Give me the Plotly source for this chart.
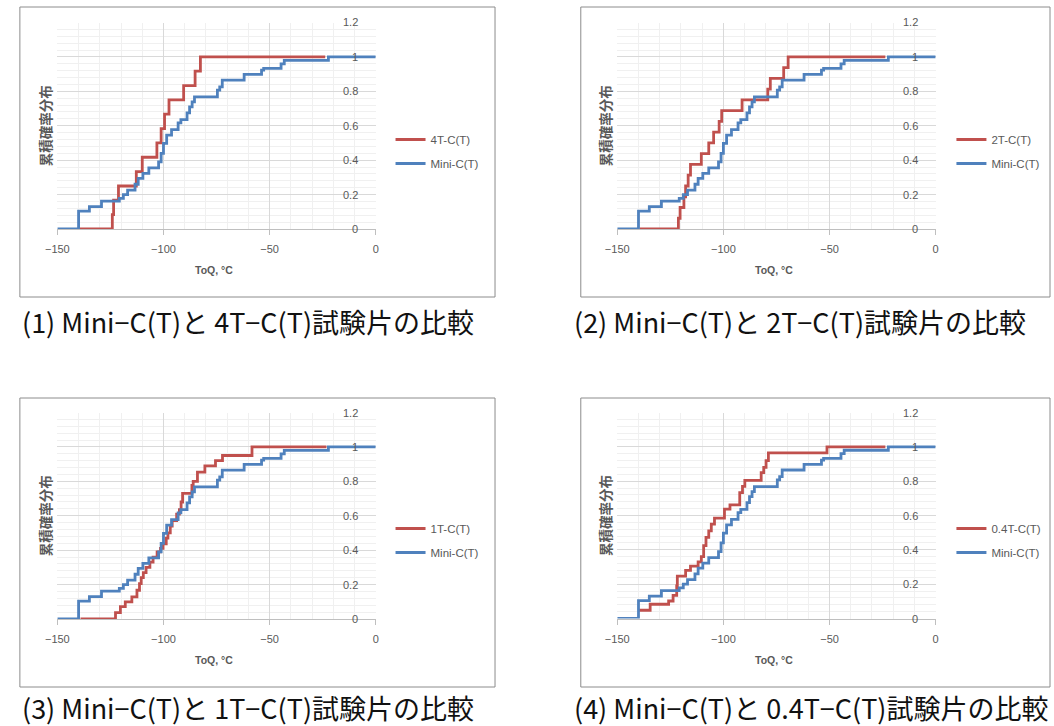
import plotly.graph_objects as go

W, H = 1054, 726

# ---- data ----
mini_x = [-150, -140.0, -134.9, -129.2, -120.8, -118.9, -116.9, -113.4, -111.9, -109.7, -106.9,
          -102.3, -101.1, -100.0, -98.5, -96.2, -93.1, -91.8, -88.9, -87.7, -86.5, -85.4,
          -74.6, -73.5, -72.3, -62.0, -53.8, -52.8, -44.6, -43.1, -22.3, 0]
mini_y = [0, 0.104, 0.13, 0.162, 0.178, 0.20, 0.226, 0.26, 0.294, 0.323, 0.355,
          0.39, 0.44, 0.497, 0.545, 0.578, 0.617, 0.636, 0.675, 0.71, 0.739, 0.768,
          0.807, 0.826, 0.865, 0.898, 0.923, 0.933, 0.96, 0.98, 1.0, 1.0]

t4_x = [-139.6, -124.1, -123.5, -121.2, -112.8, -110.0, -103.1, -101.1, -99.5, -97.4, -90.5,
        -85.1, -82.6, -23.8]
t4_y = [0, 0.083, 0.167, 0.25, 0.333, 0.417, 0.5, 0.583, 0.667, 0.75, 0.833, 0.917, 1.0, 1.0]

t2_x = [-139.5, -121.2, -120.4, -118.6, -117.8, -116.6, -115.5, -110.4, -106.9, -104.6, -102.0,
        -100.8, -91.2, -79.1, -77.9, -71.6, -69.5, -23.7]
t2_y = [0, 0.0625, 0.125, 0.1875, 0.25, 0.3125, 0.375, 0.4375, 0.5, 0.5625, 0.625, 0.6875,
        0.75, 0.8125, 0.875, 0.9375, 1.0, 1.0]

t1_x = [-139.1, -122.6, -120.3, -118.0, -114.9, -112.5, -111.3, -110.5, -109.5, -108.2, -106.4,
        -104.9, -103.0, -101.4, -100.2, -98.7, -97.9, -96.8, -95.9, -93.8, -92.5, -91.7, -91.0,
        -86.6, -86.0, -84.0, -80.5, -75.5, -72.2, -58.3, -23.2]
t1_y = [0, 0.037, 0.072, 0.10, 0.128, 0.167, 0.205, 0.24, 0.27, 0.30, 0.33, 0.36, 0.39, 0.41,
        0.437, 0.47, 0.5, 0.54, 0.572, 0.61, 0.635, 0.68, 0.73, 0.776, 0.80, 0.853, 0.89, 0.92,
        0.95, 1.0, 1.0]

t04_x = [-139.8, -134.5, -125.8, -123.7, -122.0, -121.7, -117.8, -115.5, -111.9, -110.4, -109.3,
         -108.2, -106.9, -105.7, -104.2, -99.5, -96.9, -92.3, -91.0, -89.9, -82.2, -81.0, -79.9,
         -78.8, -51.2, -23.7]
t04_y = [0.048, 0.083, 0.102, 0.135, 0.19, 0.247, 0.28, 0.305, 0.33, 0.36, 0.425, 0.473, 0.51,
         0.55, 0.585, 0.637, 0.662, 0.733, 0.77, 0.805, 0.85, 0.88, 0.92, 0.965, 1.0, 1.0]

series_names = ["4T-C(T)", "2T-C(T)", "1T-C(T)", "0.4T-C(T)"]
mini_name = "Mini-C(T)"
captions = ["(1) Mini−C(T)と 4T−C(T)試験片の比較",
            "(2) Mini−C(T)と 2T−C(T)試験片の比較",
            "(3) Mini−C(T)と 1T−C(T)試験片の比較",
            "(4) Mini−C(T)と 0.4T−C(T)試験片の比較"]
x_title = "ToQ, °C"
y_title = "累積確率分布"
x_ticks = [-150, -100, -50, 0]
y_ticks = [0, 0.2, 0.4, 0.6, 0.8, 1, 1.2]
y_tick_text = ["0", "0.2", "0.4", "0.6", "0.8", "1", "1.2"]

RED = "#C0504D"
BLUE = "#4F81BD"
TXT = "#595959"

def px(x):
    return x / W

def py(y):
    return 1 - y / H

panels = [
    dict(l=46, r=369, t=22.5, b=229, box=(8, 7, 490, 297), cap=8, cy=322, leg=(384, 125)),
    dict(l=614, r=937, t=22.5, b=229, box=(577, 7, 1053, 297), cap=568, cy=322, leg=(953, 125)),
    dict(l=46, r=369, t=412.5, b=619, box=(8, 398, 490, 687), cap=8, cy=707, leg=(384, 514)),
    dict(l=614, r=937, t=412.5, b=618.5, box=(577, 398, 1053, 687), cap=568, cy=707, leg=(953, 514)),
]
red_data = [(t4_x, t4_y), (t2_x, t2_y), (t1_x, t1_y), (t04_x, t04_y)]

fig = go.Figure()
shapes, annotations = [], []
layout_axes = {}

for i, p in enumerate(panels):
    n = i + 1
    xa = "x" if n == 1 else f"x{n}"
    ya = "y" if n == 1 else f"y{n}"
    lg = "legend" if n == 1 else f"legend{n}"
    rx, ry = red_data[i]
    fig.add_trace(go.Scatter(x=rx, y=ry, mode="lines", line=dict(color=RED, width=2.8, shape="hv"),
                             name=series_names[i], xaxis=xa, yaxis=ya, legend=lg,
                             legendgroup=f"r{n}", showlegend=True))
    fig.add_trace(go.Scatter(x=mini_x, y=mini_y, mode="lines", line=dict(color=BLUE, width=2.8, shape="hv"),
                             name=mini_name, xaxis=xa, yaxis=ya, legend=lg,
                             legendgroup=f"b{n}", showlegend=True))

    layout_axes["xaxis" if n == 1 else f"xaxis{n}"] = dict(
        domain=[px(p["l"]), px(p["r"])], range=[-150, 0], anchor=ya,
        tickvals=x_ticks, ticks="outside", ticklen=5, tickcolor="#BFBFBF",
        showline=True, linecolor="#BFBFBF", linewidth=1,
        showgrid=True, gridcolor="#D9D9D9", gridwidth=1, zeroline=False,
        minor=dict(dtick=10, tick0=0, showgrid=True, gridcolor="#F0F0F0", gridwidth=1),
        tickfont=dict(family="Liberation Sans, Arial", size=11, color=TXT),
        ticklabelstandoff=5, fixedrange=True,
    )
    layout_axes["yaxis" if n == 1 else f"yaxis{n}"] = dict(
        domain=[py(p["b"]), py(p["t"])], range=[0, 1.2], anchor=xa, side="right",
        tickvals=y_ticks, showticklabels=False,
        showgrid=True, gridcolor="#D9D9D9", gridwidth=1, zeroline=False, showline=False,
        minor=dict(dtick=0.04, tick0=0, showgrid=True, gridcolor="#F0F0F0", gridwidth=1),
        fixedrange=True,
    )
    layout_axes[lg] = dict(
        x=px(p["leg"][0]), y=py(p["leg"][1]), xanchor="left", yanchor="top",
        bgcolor="rgba(0,0,0,0)", borderwidth=0, tracegroupgap=5,
        font=dict(family="Liberation Sans, Arial", size=11.5, color=TXT),
    )

    # y tick labels, drawn inside next to the right-hand axis at x = 0
    for v, t in zip(y_ticks, y_tick_text):
        annotations.append(dict(text=t, xref=xa, yref=ya, x=0, y=v, xanchor="right",
                                yanchor="middle", xshift=-16, showarrow=False,
                                font=dict(family="Liberation Sans, Arial", size=11, color=TXT)))

    bx0, by0, bx1, by1 = p["box"]
    shapes.append(dict(type="rect", xref="paper", yref="paper",
                       x0=px(bx0), x1=px(bx1), y0=py(by1), y1=py(by0),
                       line=dict(color="#8C8C8C", width=1), fillcolor="rgba(0,0,0,0)", layer="below"))
    cx = (p["l"] + p["r"]) / 2
    annotations.append(dict(text=f"<b>{x_title}</b>", xref="paper", yref="paper",
                            x=px(cx - 3), y=py(p["b"] + 41), xanchor="center", yanchor="middle",
                            showarrow=False,
                            font=dict(family="Liberation Sans, Arial", size=10.5, color=TXT)))
    annotations.append(dict(text=f"<b>{y_title}</b>", xref="paper", yref="paper",
                            x=px(p["l"] - 13), y=py((p["t"] + p["b"]) / 2), xanchor="center",
                            yanchor="middle", showarrow=False, textangle=-90,
                            font=dict(family="Noto Sans CJK JP", size=13.5, color=TXT)))
    annotations.append(dict(text=captions[i], xref="paper", yref="paper",
                            x=px(p["cap"]), y=py(p["cy"]), xanchor="left", yanchor="middle",
                            showarrow=False,
                            font=dict(family="Noto Sans CJK JP", size=27, color="#111111")))

fig.update_layout(
    width=W, height=H, margin=dict(l=0, r=0, t=0, b=0),
    paper_bgcolor="white", plot_bgcolor="white",
    shapes=shapes, annotations=annotations, **layout_axes,
)

fig.write_html("out.html")
